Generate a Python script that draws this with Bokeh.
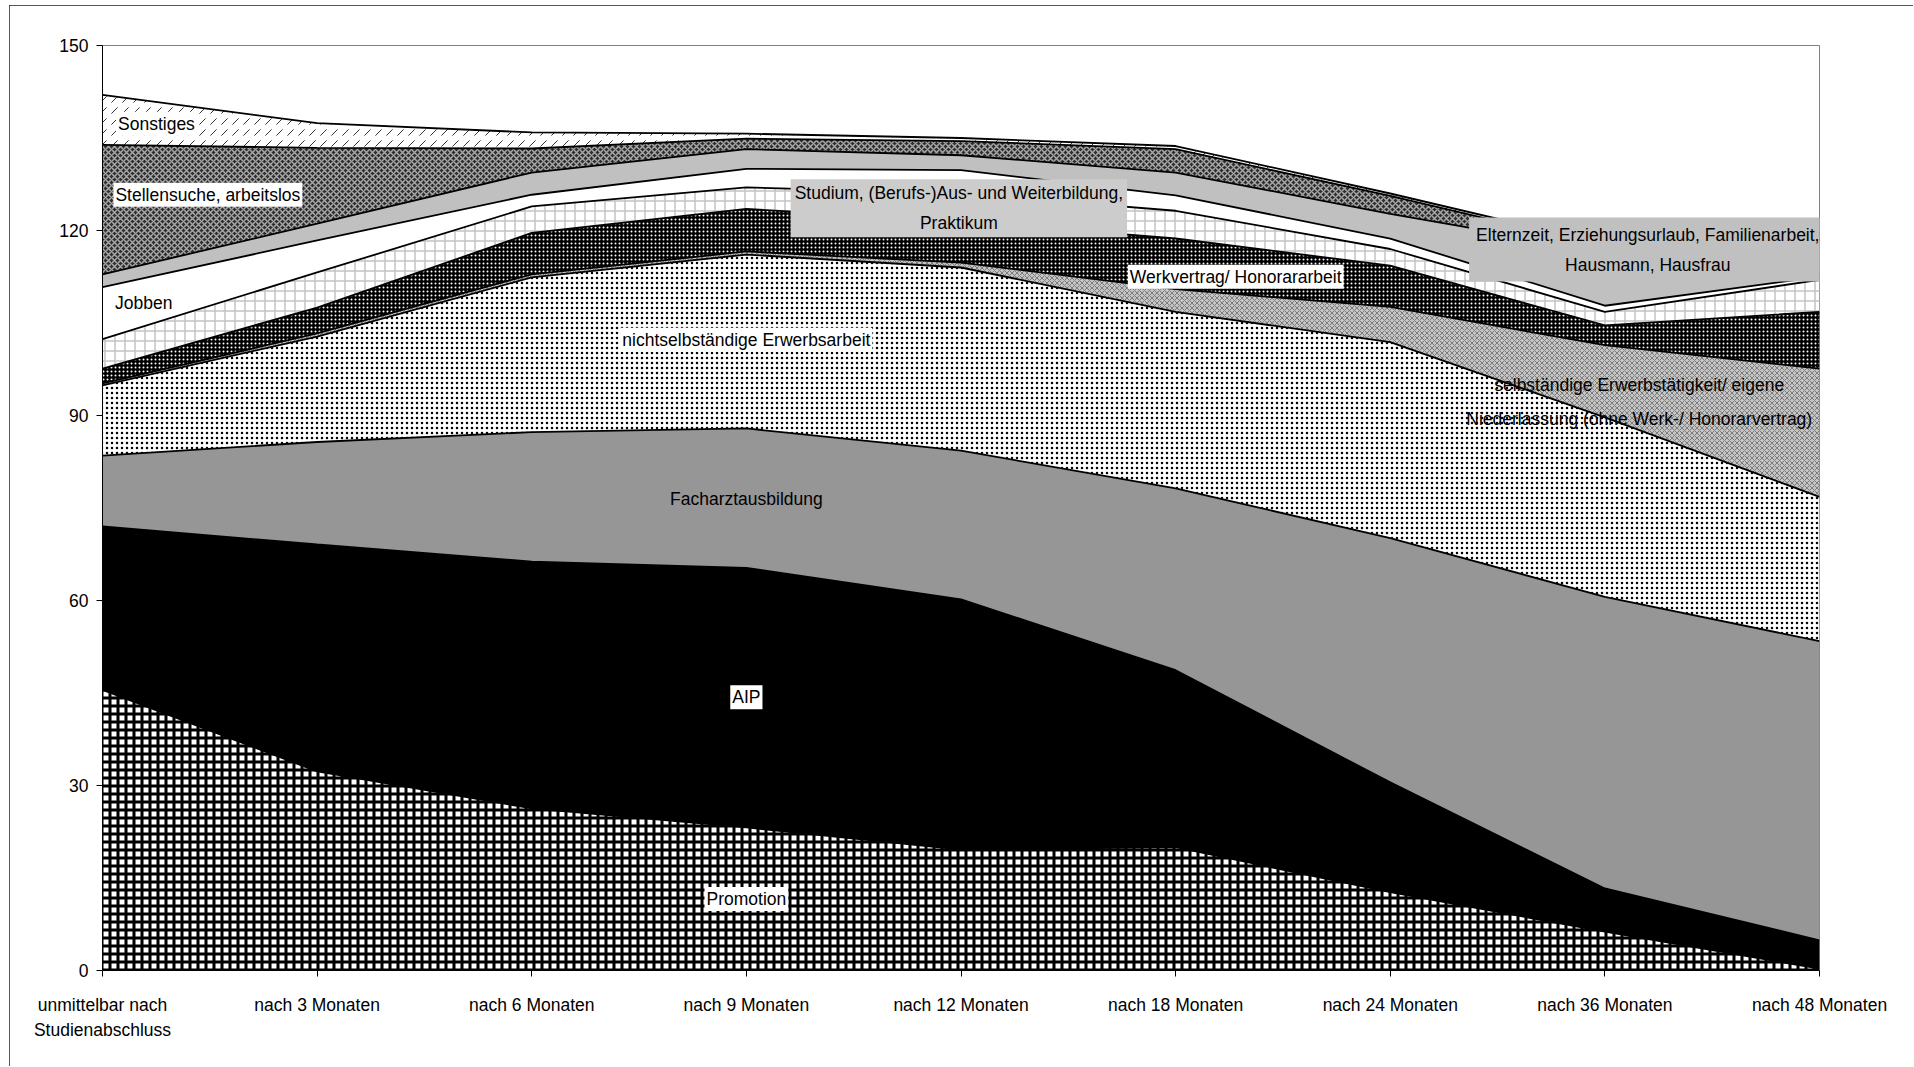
from bokeh.plotting import figure
from bokeh.models import ColumnDataSource, FixedTicker, Label, Range1d
from bokeh.transform import stack
from bokeh.embed import file_html
from bokeh.resources import INLINE

categories = ["unmittelbar nach\nStudienabschluss", "nach 3 Monaten", "nach 6 Monaten",
              "nach 9 Monaten", "nach 12 Monaten", "nach 18 Monaten", "nach 24 Monaten",
              "nach 36 Monaten", "nach 48 Monaten"]

promotion    = [45.5, 32.3, 26.3, 23.2, 19.6, 20.0, 12.7, 6.3, 0.3]
aip          = [26.5, 36.8, 40.0, 42.1, 40.6, 28.7, 17.8, 7.0, 4.6]
facharzt     = [11.5, 16.6, 21.0, 22.6, 24.1, 29.5, 39.6, 47.3, 48.5]
nichtselbst  = [11.4, 17.1, 25.1, 28.2, 29.7, 28.6, 31.8, 29.1, 23.4]
selbst       = [0.3, 0.5, 0.5, 0.5, 0.8, 3.7, 5.7, 11.7, 20.8]
werkvertrag  = [2.4, 4.2, 6.7, 6.9, 6.7, 8.2, 6.7, 3.2, 9.2]
studium      = [4.8, 5.7, 4.3, 3.5, 4.5, 4.5, 2.7, 2.2, 5.2]
jobben       = [8.4, 5.2, 1.9, 3.0, 3.8, 2.5, 1.7, 1.0, 0.5]
elternzeit   = [2.1, 2.7, 3.6, 3.2, 2.4, 3.7, 4.0, 8.8, 6.0]
stellensuche = [21.0, 12.3, 3.9, 1.7, 2.3, 3.8, 2.9, 0.8, 0.8]
sonstiges    = [8.1, 4.0, 2.6, 0.8, 0.5, 0.5, 0.4, 0.4, 0.3]

y_ticks = [0, 30, 60, 90, 120, 150]

FONT = "Liberation Sans"
FS = "17.5px"

names = ["promotion", "aip", "facharzt", "nichtselbst", "selbst", "werkvertrag",
         "studium", "jobben", "elternzeit", "stellensuche", "sonstiges"]
series = [promotion, aip, facharzt, nichtselbst, selbst, werkvertrag,
          studium, jobben, elternzeit, stellensuche, sonstiges]

data = {"x": list(range(len(categories)))}
for n, s in zip(names, series):
    data[n] = s
source = ColumnDataSource(data)

styles = {
    "promotion":    dict(fill_color="white", hatch_pattern="+", hatch_color="black", hatch_scale=8, hatch_weight=3),
    "aip":          dict(fill_color="black"),
    "facharzt":     dict(fill_color="#969696"),
    "nichtselbst":  dict(fill_color="white", hatch_pattern=".", hatch_color="black", hatch_scale=5, hatch_weight=1),
    "selbst":       dict(fill_color="#c4c4c4", hatch_pattern="x", hatch_color="#7c7c7c", hatch_scale=5, hatch_weight=1),
    "werkvertrag":  dict(fill_color="black", hatch_pattern=".", hatch_color="white", hatch_scale=4, hatch_weight=1.5),
    "studium":      dict(fill_color="white", hatch_pattern="+", hatch_color="#c4c4c4", hatch_scale=10, hatch_weight=1.5),
    "jobben":       dict(fill_color="white"),
    "elternzeit":   dict(fill_color="#c0c0c0"),
    "stellensuche": dict(fill_color="#2e2e2e", hatch_pattern="x", hatch_color="#a8a8a8", hatch_scale=6, hatch_weight=1.5),
    "sonstiges":    dict(fill_color="white", hatch_pattern=",", hatch_color="#333333", hatch_scale=11, hatch_weight=1),
}

p = figure(width=1904, height=1061, output_backend="svg", toolbar_location=None,
           x_range=Range1d(0, 8), y_range=Range1d(0, 150),
           min_border_left=93, min_border_right=94, min_border_top=40, min_border_bottom=96)
p.styles = {"outline": "1px solid #202020", "outline-offset": "-1px",
            "margin-left": "9px", "margin-top": "5px"}
p.background_fill_color = "white"
p.border_fill_color = "white"
p.outline_line_color = "#808080"
p.outline_line_width = 1
p.xgrid.visible = False
p.ygrid.visible = False

for i, n in enumerate(names):
    p.varea(x="x", y1=stack(*names[:i]), y2=stack(*names[:i + 1]), source=source, **styles[n])
for i, n in enumerate(names):
    p.line(x="x", y=stack(*names[:i + 1]), source=source, line_color="black", line_width=1.8)

p.yaxis.ticker = FixedTicker(ticks=y_ticks)
p.xaxis.ticker = FixedTicker(ticks=data["x"])
p.xaxis.major_label_overrides = {i: c for i, c in enumerate(categories)}
for ax in (p.xaxis, p.yaxis):
    ax.axis_line_color = "black"
    ax.axis_line_width = 1
    ax.major_tick_line_color = "black"
    ax.major_tick_out = 6
    ax.major_tick_in = 0
    ax.minor_tick_out = 0
    ax.minor_tick_in = 0
    ax.major_label_text_font = FONT
    ax.major_label_text_font_size = FS
    ax.major_label_text_color = "black"
p.xaxis.major_label_text_line_height = 1.27
p.yaxis.major_label_standoff = 8
p.xaxis.major_label_standoff = 18

def add_label(x, y, text, bg=None, align="center", lh=1.5, pad=2):
    kw = dict(x=x, y=y, text=text, text_font=FONT, text_font_size=FS, text_color="black",
              text_align=align, text_baseline="middle", text_line_height=lh)
    if bg is not None:
        kw.update(background_fill_color=bg, padding=pad)
    p.add_layout(Label(**kw))

add_label(0.063, 137.3, "Sonstiges", bg="white", align="left")
add_label(0.051, 125.8, "Stellensuche, arbeitslos", bg="white", align="left")
add_label(0.058, 108.2, "Jobben", align="left")
add_label(3.99, 123.6, "Studium, (Berufs-)Aus- und Weiterbildung,\nPraktikum", bg="#cccccc", pad=4)
add_label(3.0, 102.3, "nichtselbständige Erwerbsarbeit", bg="white")
add_label(5.28, 112.5, "Werkvertrag/ Honorararbeit", bg="white")
add_label(7.20, 116.9, "Elternzeit, Erziehungsurlaub, Familienarbeit,\nHausmann, Hausfrau", bg="#c0c0c0", pad=7)
add_label(7.16, 92.2, "selbständige Erwerbstätigkeit/ eigene\nNiederlassung (ohne Werk-/ Honorarvertrag)", lh=1.7)
add_label(3.0, 76.5, "Facharztausbildung")
add_label(3.0, 44.3, "AIP", bg="white")
add_label(3.0, 11.6, "Promotion", bg="white")

open("out.html", "w").write(file_html(p, INLINE))
